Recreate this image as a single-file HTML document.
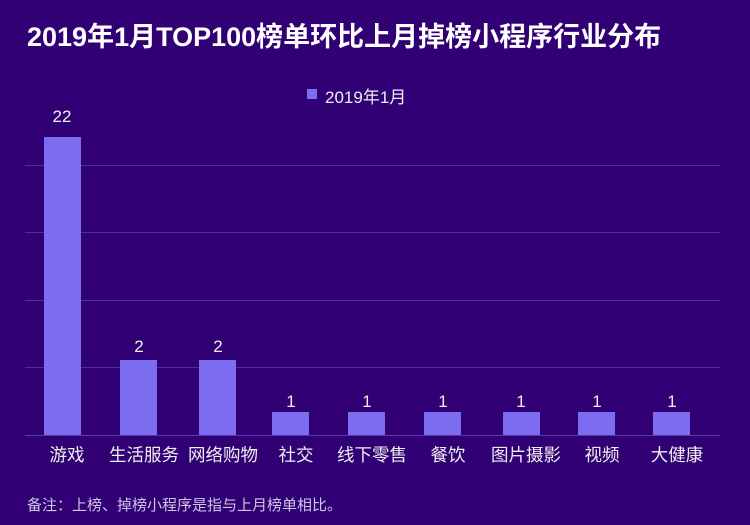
<!DOCTYPE html><html><head><meta charset="utf-8"><style>
body{margin:0;width:750px;height:525px;background:#310074;overflow:hidden;position:relative;font-family:"Liberation Sans","Noto Sans CJK SC",sans-serif;color:#fff}
.t{position:absolute;white-space:nowrap}
.g{position:absolute;left:25px;width:695px;height:1px;background:#4f2a9a}
.b{position:absolute;width:37px;background:#7b6cf0}
.v{position:absolute;width:60px;text-align:center;font-size:17px;color:#eee}
.l{position:absolute;width:100px;text-align:center;font-size:17.5px;top:442px;color:#eee;white-space:nowrap}
</style></head><body>
<div class="t" style="left:27px;top:15px;font-size:27px;font-weight:bold">2019年1月TOP100榜单环比上月掉榜小程序行业分布</div>
<div style="position:absolute;left:307px;top:89px;width:10px;height:10px;background:#7b6cf0"></div>
<div class="t" style="left:325px;top:83px;font-size:17px;color:#eee">2019年1月</div>
<div class="g" style="top:165px"></div><div class="g" style="top:232px"></div><div class="g" style="top:300px"></div><div class="g" style="top:367px"></div><div class="g" style="top:435px;background:#5a3aa8"></div>
<div class="b" style="left:44px;top:137px;height:298px"></div>
<div class="b" style="left:120px;top:360px;height:75px"></div>
<div class="b" style="left:199px;top:360px;height:75px"></div>
<div class="b" style="left:272px;top:412px;height:23px"></div>
<div class="b" style="left:348px;top:412px;height:23px"></div>
<div class="b" style="left:424px;top:412px;height:23px"></div>
<div class="b" style="left:503px;top:412px;height:23px"></div>
<div class="b" style="left:578px;top:412px;height:23px"></div>
<div class="b" style="left:653px;top:412px;height:23px"></div>
<div class="v" style="left:32px;top:107px">22</div>
<div class="v" style="left:109px;top:337px">2</div>
<div class="v" style="left:188px;top:337px">2</div>
<div class="v" style="left:261px;top:392px">1</div>
<div class="v" style="left:337px;top:392px">1</div>
<div class="v" style="left:413px;top:392px">1</div>
<div class="v" style="left:491px;top:392px">1</div>
<div class="v" style="left:567px;top:392px">1</div>
<div class="v" style="left:642px;top:392px">1</div>
<div class="l" style="left:17px">游戏</div>
<div class="l" style="left:94px">生活服务</div>
<div class="l" style="left:173px">网络购物</div>
<div class="l" style="left:246px">社交</div>
<div class="l" style="left:322px">线下零售</div>
<div class="l" style="left:398px">餐饮</div>
<div class="l" style="left:476px">图片摄影</div>
<div class="l" style="left:552px">视频</div>
<div class="l" style="left:627px">大健康</div>
<div class="t" style="left:27px;top:494px;font-size:15px;color:#cfc6e6">备注：上榜、掉榜小程序是指与上月榜单相比。</div>
</body></html>
